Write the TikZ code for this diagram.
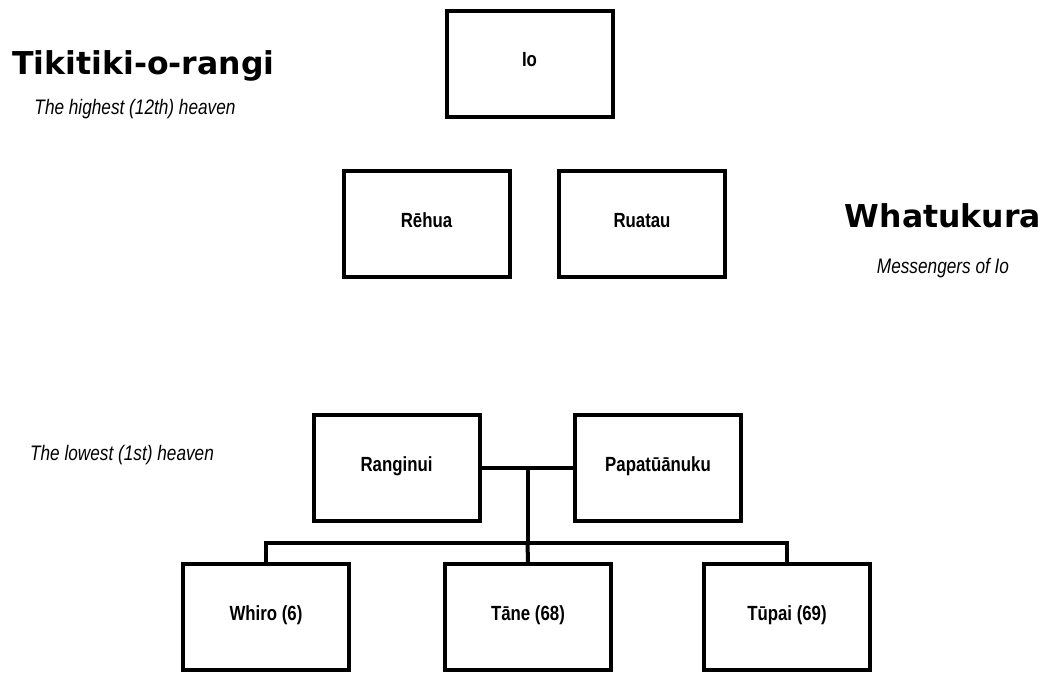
\documentclass[tikz,border=0pt]{standalone}
\usepackage{fontspec}
\setmainfont{Liberation Sans}
\newfontfamily\narrowfont[FakeStretch=0.82]{Liberation Sans}
\newfontfamily\heavyfont{DejaVu Sans}
\tikzset{
  godbox/.style={draw, line width=4pt, minimum width=166pt, minimum height=106pt,
    inner sep=0pt, font=\narrowfont\fontsize{20.5}{22}\selectfont\bfseries,
    text height=1.45ex, text depth=.25ex},
  heading/.style={anchor=base, inner sep=0pt, font=\heavyfont\fontsize{31.5}{36}\selectfont\bfseries},
  remark/.style={anchor=base, inner sep=0pt, font=\narrowfont\fontsize{21}{24}\selectfont\itshape},
  link/.style={line width=4pt}
}
\begin{document}
\begin{tikzpicture}[x=1pt, y=-1pt]
  \useasboundingbox (0,0) rectangle (1044,673);
  % heavens
  \node (tikitiki) at (143.5, 74) [heading] {Tikitiki-o-rangi};
  \node (highest) at (135, 114) [remark] {The highest (12th) heaven};
  \node (whatukura) at (943, 227) [heading] {Whatukura};
  \node (messengers) at (943, 273) [remark] {Messengers of Io};
  \node (lowest) at (122, 460) [remark] {The lowest (1st) heaven};
  % gods
  \node (io) at (529.5, 63.5) [godbox] {Io};
  \node (rehua) at (426.5, 224) [godbox] {Rēhua};
  \node (ruatau) at (642, 224) [godbox] {Ruatau};
  \node (rangi) at (396.5, 468) [godbox] {Ranginui};
  \node (papa) at (658, 468) [godbox] {Papatūānuku};
  \node (whiro) at (266, 617) [godbox] {Whiro (6)};
  \node (tane) at (528, 617) [godbox] {Tāne (68)};
  \node (tupai) at (787, 617) [godbox] {Tūpai (69)};
  % children of Rangi and Papa
  \coordinate (union) at (527.5, 468);
  \coordinate (barleft) at (266, 543);
  \coordinate (barmid) at (527.5, 543);
  \coordinate (barright) at (787, 543);
  \draw [link] (rangi.east) -- (papa.west);
  \draw [link] (union) -- (barmid);
  \draw [link, line cap=rect] (barleft) -- (barright);
  \draw [link] (barleft) -- (whiro.north);
  \draw [link] (barmid) -- (tane.north);
  \draw [link] (barright) -- (tupai.north);
\end{tikzpicture}
\end{document}
